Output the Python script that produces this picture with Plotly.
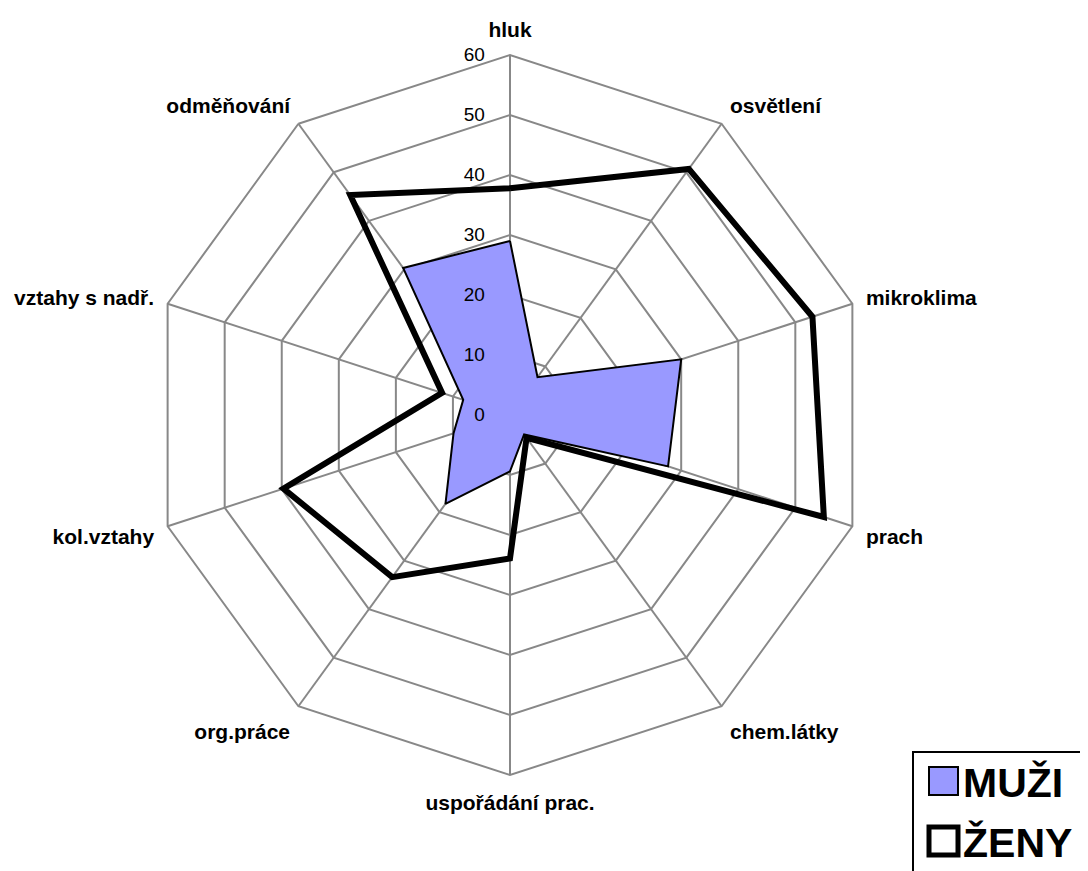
import plotly.graph_objects as go

categories = ["hluk", "osvětlení", "mikroklima", "prach", "chem.látky",
              "uspořádání prac.", "org.práce", "kol.vztahy", "vztahy s nadř.", "odměňování"]
muzi = [29, 7.8, 30, 27.7, 4, 9.4, 18.3, 9.9, 8.2, 30.3]
zeny = [37.8, 50.7, 53, 55, 4.7, 23.9, 33.4, 39.7, 11.9, 45.3]
radial_ticks = [0, 10, 20, 30, 40, 50, 60]
series_names = ["MUŽI", "ŽENY"]
series_fill = ["#9999FF", "white"]

W, H = 1088, 871
OFF = 8  # page body margin of the html
grid = "#888888"
FONT = "Liberation Sans, Arial, sans-serif"

def px(x):
    return (x - OFF) / W

def py(y):
    return 1 - (y - OFF) / H

fig = go.Figure()
fig.add_trace(go.Scatterpolar(
    r=muzi + [muzi[0]], theta=categories + [categories[0]],
    mode="lines", fill="toself", fillcolor=series_fill[0],
    line=dict(color="black", width=2), name=series_names[0], showlegend=False))
fig.add_trace(go.Scatterpolar(
    r=zeny + [zeny[0]], theta=categories + [categories[0]],
    mode="lines", line=dict(color="black", width=6), name=series_names[1], showlegend=False))

cx, cy, R = 510, 415, 360
fig.update_layout(
    width=W, height=H,
    margin=dict(l=0, r=0, t=0, b=0),
    paper_bgcolor="white",
    font=dict(family=FONT, color="black"),
    polar=dict(
        domain=dict(x=[px(cx - R), px(cx + R)], y=[py(cy + R), py(cy - R)]),
        bgcolor="white",
        gridshape="linear",
        angularaxis=dict(
            direction="clockwise", rotation=90,
            categoryorder="array", categoryarray=categories,
            showline=True, linecolor=grid, linewidth=2,
            gridcolor=grid, gridwidth=2,
            ticks="outside", ticklen=9, tickcolor="rgba(0,0,0,0)",
            tickfont=dict(size=21, family=FONT, color="black", weight="bold"),
        ),
        radialaxis=dict(
            range=[0, 60], tickvals=radial_ticks, ticktext=[str(v) for v in radial_ticks],
            angle=90, side="counterclockwise", tickangle=90,
            showline=False, ticks="outside", ticklen=18, tickcolor="rgba(0,0,0,0)",
            gridcolor=grid, gridwidth=2,
            tickfont=dict(size=19, color="black"),
        ),
    ),
    showlegend=False,
)

# legend box (drawn manually to match the large square keys)
shapes = [dict(type="rect", xref="paper", yref="paper",
               x0=px(913), x1=px(1110), y0=py(900), y1=py(752),
               line=dict(color="black", width=2), fillcolor="white", layer="above")]
annotations = []
for i, name in enumerate(series_names):
    yc = 781 + 60 * i
    shapes.append(dict(type="rect", xref="paper", yref="paper",
                       x0=px(929), x1=px(958), y0=py(yc + 14), y1=py(yc - 14),
                       line=dict(color="black", width=2 if i == 0 else 5),
                       fillcolor=series_fill[i], layer="above"))
    annotations.append(dict(text=f"<b>{name}</b>", xref="paper", yref="paper",
                            x=px(961), y=py(yc + 2), xanchor="left", yanchor="middle",
                            showarrow=False, font=dict(size=41, family=FONT, color="black")))
fig.update_layout(shapes=shapes, annotations=annotations)

fig.write_html("out.html")
